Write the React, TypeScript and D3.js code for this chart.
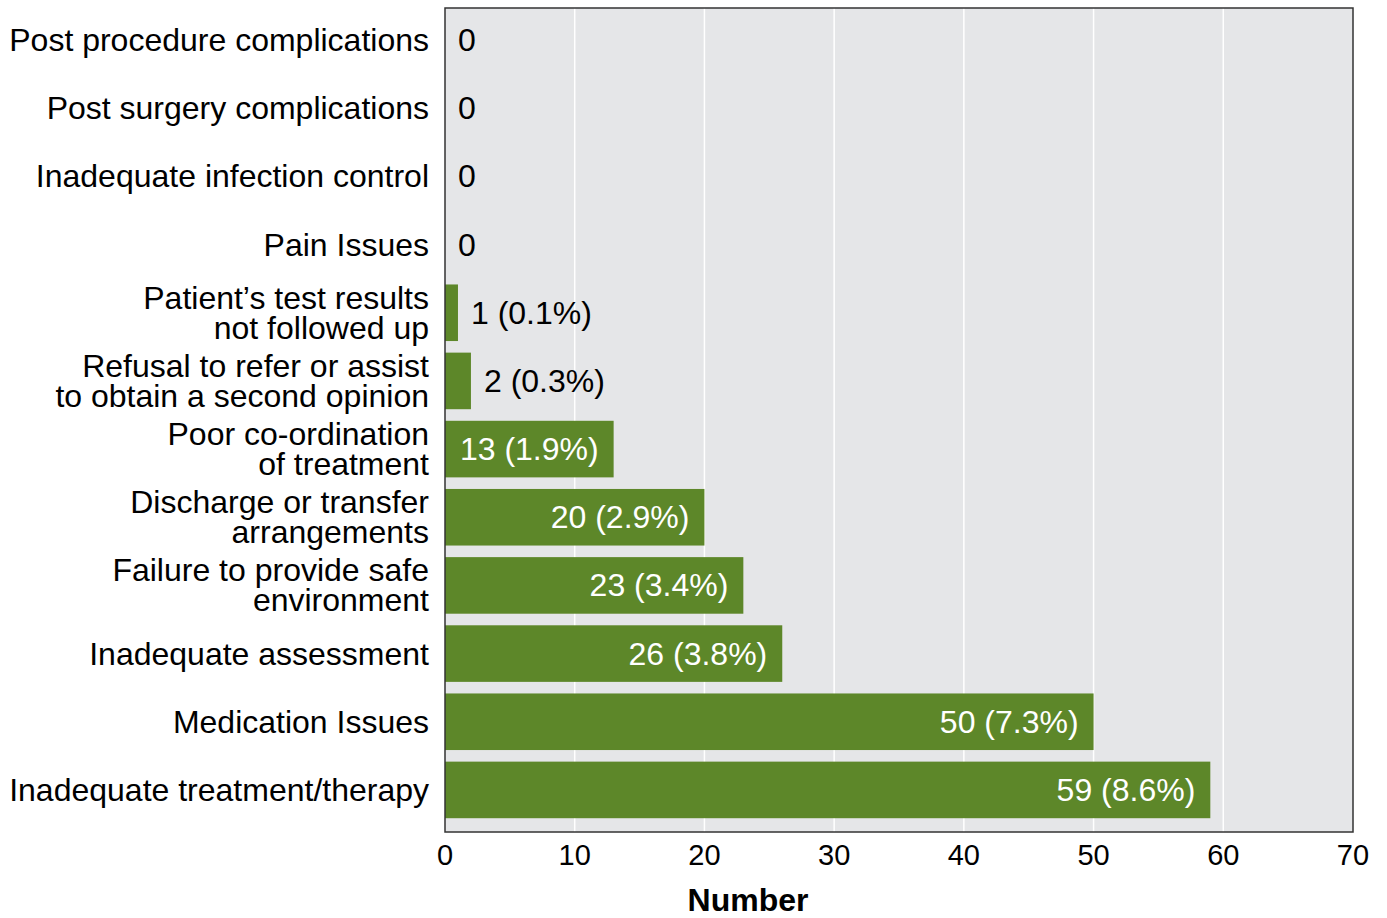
import React, { useEffect, useRef } from 'react';
import * as d3 from 'd3';

// categories top -> bottom, label lines split on "|"
const categories = [
  'Post procedure complications',
  'Post surgery complications',
  'Inadequate infection control',
  'Pain Issues',
  'Patient\u2019s test results|not followed up',
  'Refusal to refer or assist|to obtain a second opinion',
  'Poor co-ordination|of treatment',
  'Discharge or transfer|arrangements',
  'Failure to provide safe|environment',
  'Inadequate assessment',
  'Medication Issues',
  'Inadequate treatment/therapy',
];
const counts = [0, 0, 0, 0, 1, 2, 13, 20, 23, 26, 50, 59];
const percents = [null, null, null, null, 0.1, 0.3, 1.9, 2.9, 3.4, 3.8, 7.3, 8.6];
const xTicks = [0, 10, 20, 30, 40, 50, 60, 70];

const W = 1387;
const H = 918;
const FONT = '"Liberation Sans", Arial, Helvetica, sans-serif';

const App: React.FC = () => {
  const svgRef = useRef<SVGSVGElement>(null);

  useEffect(() => {
    if (!svgRef.current) return;
    const svg = d3.select(svgRef.current);
    svg.selectAll('*').remove();

    const left = 445, right = 1353, top = 8, bottom = 832;

    const x = d3.scaleLinear().domain([0, 70]).range([left, right]);
    const y = d3.scaleBand<number>()
      .domain(d3.range(categories.length))
      .range([6, 824])
      .paddingInner(0.17)
      .paddingOuter(0.085);

    // plot background
    svg.append('rect')
      .attr('x', left).attr('y', top)
      .attr('width', right - left).attr('height', bottom - top)
      .attr('fill', '#e5e6e8');

    // grid
    svg.append('g')
      .selectAll('line')
      .data(xTicks.slice(1, -1))
      .join('line')
      .attr('x1', d => x(d)).attr('x2', d => x(d))
      .attr('y1', top).attr('y2', bottom)
      .attr('stroke', '#ffffff')
      .attr('stroke-width', 1.5);

    // bars
    svg.append('g')
      .selectAll('rect')
      .data(counts)
      .join('rect')
      .attr('x', x(0))
      .attr('y', (_, i) => y(i)!)
      .attr('width', d => x(d) - x(0))
      .attr('height', y.bandwidth())
      .attr('fill', '#5d8729');

    // value labels
    svg.append('g')
      .selectAll('text')
      .data(counts)
      .join('text')
      .attr('font-family', FONT)
      .attr('font-size', 32)
      .attr('dominant-baseline', 'central')
      .attr('y', (_, i) => y(i)! + y.bandwidth() / 2)
      .each(function (d, i) {
        const t = d3.select(this);
        const label = percents[i] == null ? `${d}` : `${d} (${percents[i]!.toFixed(1)}%)`;
        t.text(label);
        if (d >= 10) {
          t.attr('x', x(d) - 15).attr('text-anchor', 'end').attr('fill', '#ffffff');
        } else {
          t.attr('x', x(d) + 13).attr('text-anchor', 'start').attr('fill', '#000000');
        }
      });

    // frame
    svg.append('rect')
      .attr('x', left).attr('y', top)
      .attr('width', right - left).attr('height', bottom - top)
      .attr('fill', 'none')
      .attr('stroke', '#333333')
      .attr('stroke-width', 1.5);

    // category labels
    const lineH = 30;
    const cat = svg.append('g')
      .attr('font-family', FONT)
      .attr('font-size', 32)
      .attr('text-anchor', 'end')
      .attr('fill', '#000');
    categories.forEach((c, i) => {
      const lines = c.split('|');
      const cy = y(i)! + y.bandwidth() / 2;
      const t = cat.append('text').attr('x', 429).attr('dominant-baseline', 'central');
      lines.forEach((ln, j) => {
        t.append('tspan')
          .attr('x', 429)
          .attr('y', cy + (j - (lines.length - 1) / 2) * lineH)
          .text(ln);
      });
    });

    // x tick labels
    svg.append('g')
      .selectAll('text')
      .data(xTicks)
      .join('text')
      .attr('x', d => x(d))
      .attr('y', 855)
      .attr('dominant-baseline', 'central')
      .attr('text-anchor', 'middle')
      .attr('font-family', FONT)
      .attr('font-size', 29)
      .text(d => d);

    // axis title
    svg.append('text')
      .attr('x', 748)
      .attr('y', 900)
      .attr('dominant-baseline', 'central')
      .attr('text-anchor', 'middle')
      .attr('font-family', FONT)
      .attr('font-size', 32)
      .attr('font-weight', 'bold')
      .text('Number');
  }, []);

  return (
    <svg
      ref={svgRef}
      width={W}
      height={H}
      style={{ position: 'absolute', left: 0, top: 0, background: '#fff' }}
    />
  );
};

export default App;
